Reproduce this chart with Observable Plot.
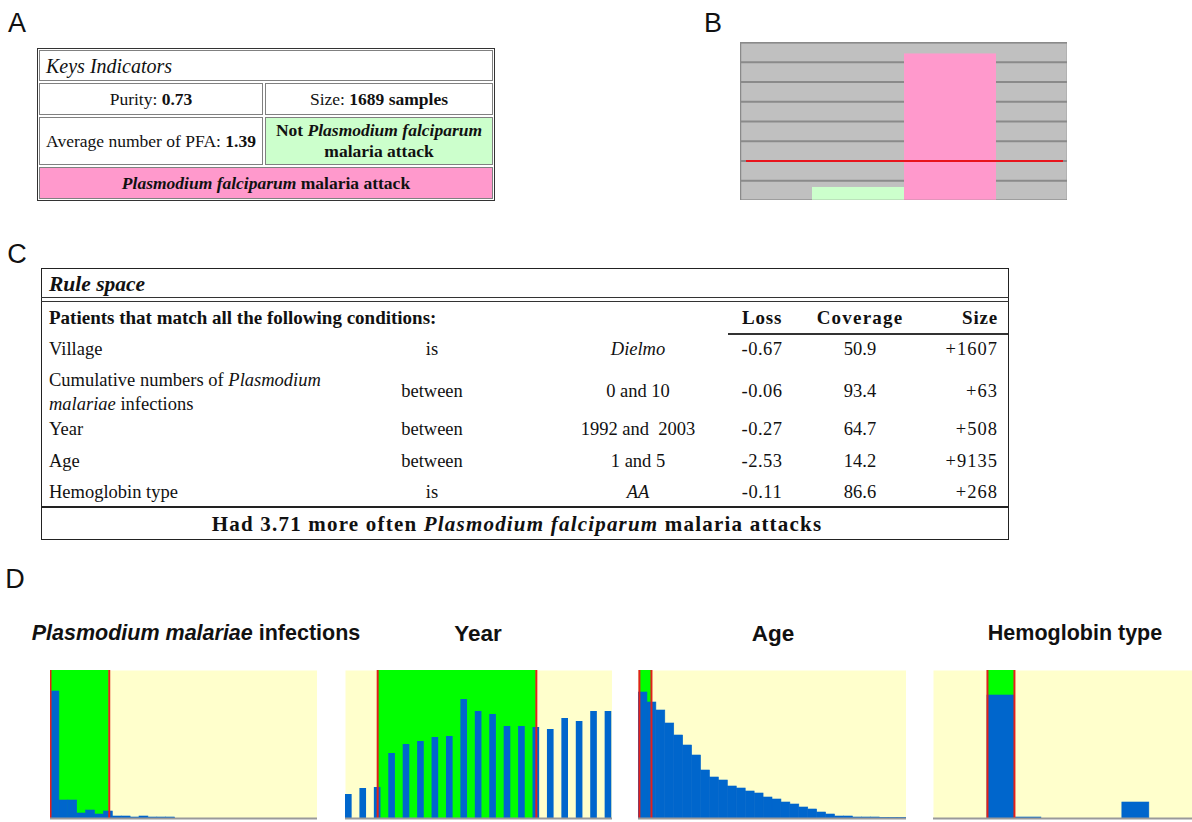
<!DOCTYPE html>
<html><head><meta charset="utf-8">
<script src="https://cdn.jsdelivr.net/npm/d3@7"></script>
<script src="https://cdn.jsdelivr.net/npm/@observablehq/plot@0.6"></script>
<style>
body{margin:0;background:#fff;width:1192px;height:822px;position:relative;overflow:hidden;font-family:"Liberation Serif","Times New Roman",serif;color:#111}
.c{position:absolute;transform:translate(-50%,-50%);white-space:nowrap;line-height:1.15}
.l{position:absolute;transform:translate(0,-50%);white-space:nowrap;line-height:1.15}
.r{position:absolute;transform:translate(-100%,-50%);white-space:nowrap;line-height:1.15}
.panel{font-family:"Liberation Sans",Arial,sans-serif;font-size:27px;line-height:1}
.cell{position:absolute;border:1px solid #808080;box-sizing:border-box;display:flex;align-items:center;justify-content:center;text-align:center;font-size:17.5px;line-height:1.2}
.dt{font-family:"Liberation Sans",Arial,sans-serif;font-weight:bold;font-size:21.5px;line-height:1}
.plot{position:absolute}
.plot svg{display:block}
.ct{font-size:18.5px}
.hd{font-size:19px}
</style></head><body>
<script>
// ---------------- data ----------------
const panelLetters = ["A", "B", "C", "D"];

// Panel A – key indicators
const purity = "0.73";
const sampleSize = "1689";
const avgPFA = "1.39";

// Panel B – class bars
const bCategories = ["Not Plasmodium falciparum malaria attack", "Plasmodium falciparum malaria attack"];
const bValues = [0.33, 3.71];
const bColors = ["#ccffcc", "#ff99cc"];
const bReference = [1];
const bGridTicks = [0, 0.5, 1, 1.5, 2, 2.5, 3, 3.5, 4];

// Panel C – rule space
const ruleAttributes = ["Village", "Cumulative numbers of <i>Plasmodium</i><br><i>malariae</i> infections", "Year", "Age", "Hemoglobin type"];
const ruleOperators = ["is", "between", "between", "between", "is"];
const ruleValues = ["<i>Dielmo</i>", "0 and 10", "1992 and&nbsp; 2003", "1 and 5", "<i>AA</i>"];
const ruleLoss = ["-0.67", "-0.06", "-0.27", "-2.53", "-0.11"];
const ruleCoverage = ["50.9", "93.4", "64.7", "14.2", "86.6"];
const ruleSize = ["+1607", "+63", "+508", "+9135", "+268"];
const ruleEffect = "3.71";

// Panel D – distributions
const dTitles = ["<i>Plasmodium malariae</i> infections", "Year", "Age", "Hemoglobin type"];
const countMax = 148;
const pmCounts = [127, 18, 18, 5, 8, 4, 7, 2, 2, 1, 2, 1, 1, 1, 0, 0, 0, 0, 0, 0, 0, 0, 0, 0, 0, 0, 0, 0, 0, 0];
const pmSelected = [0, 6.6];
const years = [1990, 1991, 1992, 1993, 1994, 1995, 1996, 1997, 1998, 1999, 2000, 2001, 2002, 2003, 2004, 2005, 2006, 2007, 2008];
const yearCounts = [24, 30, 31, 65, 74, 77, 81, 82, 119, 107, 104, 92, 92, 91, 89, 100, 97, 107, 107];
const yearSelected = [1992, 2003];
const ageCounts = [126, 116, 108, 95, 83, 73, 63, 48, 41, 38, 32, 30, 27, 25, 21, 19, 16, 14, 11, 9, 6, 4, 2, 2, 1, 1, 1, 0.5, 0.5, 0.5];
const ageSelected = [0.1, 1.45];
const hbCounts = [0, 0, 123, 1, 0, 0, 0, 16, 0, 0];
const hbSelected = [2, 3];

// ---------------- helpers ----------------
function put(cls, html, x, y, extra) {
  const d = document.createElement("div");
  d.className = cls;
  d.innerHTML = html;
  d.style.left = x + "px";
  d.style.top = y + "px";
  if (extra) Object.assign(d.style, extra);
  document.body.appendChild(d);
  return d;
}
function box(x, y, w, h, style) {
  const d = document.createElement("div");
  Object.assign(d.style, {position: "absolute", left: x + "px", top: y + "px", width: w + "px", height: h + "px", boxSizing: "border-box"}, style);
  document.body.appendChild(d);
  return d;
}
function cell(x, y, w, h, html, bg) {
  const d = box(x, y, w, h, {background: bg || "#fff"});
  d.className = "cell";
  d.innerHTML = "<div>" + html + "</div>";
  return d;
}
function mount(svg, x, y) {
  const d = document.createElement("div");
  d.className = "plot";
  d.style.left = x + "px";
  d.style.top = y + "px";
  d.appendChild(svg);
  document.body.appendChild(d);
}

// ---------------- panel letters ----------------
put("c panel", panelLetters[0], 17, 23);
put("c panel", panelLetters[1], 713, 23);
put("c panel", panelLetters[2], 17, 254);
put("c panel", panelLetters[3], 15, 579);

// ---------------- panel A ----------------
box(37, 48, 458, 153, {border: "1.5px solid #333"});
const t = cell(39, 50, 454, 31, "");
t.style.justifyContent = "flex-start";
t.innerHTML = "<div style='font-style:italic;font-size:20px;padding-left:6px'>Keys Indicators</div>";
cell(39, 83, 224, 32, "Purity: <b>" + purity + "</b>");
cell(265, 83, 228, 32, "Size: <b>" + sampleSize + " samples</b>");
cell(39, 117, 224, 48, "Average number of PFA: <b>" + avgPFA + "</b>");
cell(265, 117, 228, 48, "<b>Not <i>Plasmodium falciparum</i><br>malaria attack</b>", bColors[0]);
cell(39, 167, 454, 32, "<b><i>Plasmodium falciparum</i> malaria attack</b>", bColors[1]);

// ---------------- panel B ----------------
const bData = bCategories.map((c, i) => ({category: c, value: bValues[i]}));
mount(Plot.plot({
  width: 327, height: 158, margin: 0,
  x: {domain: bCategories, paddingInner: 0, paddingOuter: 0.76, axis: null},
  y: {domain: [0, 4], axis: null},
  color: {domain: bCategories, range: bColors},
  marks: [
    Plot.frame({fill: "#c0c0c0", stroke: "none"}),
    Plot.ruleY(bGridTicks, {stroke: "#8a8a8a", strokeWidth: 1.8}),
    Plot.barY(bData, {x: "category", y: "value", fill: "category"}),
    Plot.ruleY(bReference, {stroke: "#e8141c", strokeWidth: 2, insetLeft: 6, insetRight: 4}),
    Plot.frame({stroke: "#8a8a8a", strokeWidth: 1.5})
  ]
}), 740, 42);

// ---------------- panel C ----------------
box(41, 268, 968, 272, {border: "1.8px solid #222"});
box(41, 297, 968, 5, {borderTop: "1.5px solid #333", borderBottom: "1.5px solid #333"});
box(41, 506, 968, 2, {borderTop: "2px solid #222"});
box(728, 333, 280, 2, {borderTop: "2px solid #333"});
put("l", "<b><i>Rule space</i></b>", 49, 284, {fontSize: "21.5px"});
put("l hd", "<b>Patients that match all the following conditions:</b>", 49, 318);
put("c hd", "<b>Loss</b>", 762, 318, {letterSpacing: "0.8px"});
put("c hd", "<b>Coverage</b>", 860, 318, {letterSpacing: "1.2px"});
put("r hd", "<b>Size</b>", 998, 318, {letterSpacing: "0.8px"});
const rowY = [350, 392, 430, 462, 493];
ruleAttributes.forEach((a, i) => {
  put("l ct", a, 49, rowY[i], i === 1 ? {lineHeight: "24px"} : null);
  put("c ct", ruleOperators[i], 432, rowY[i]);
  put("c ct", ruleValues[i], 638, rowY[i]);
  put("c ct", ruleLoss[i], 762, rowY[i], {letterSpacing: "0.5px"});
  put("c ct", ruleCoverage[i], 860, rowY[i]);
  put("r ct", ruleSize[i], 998, rowY[i], {letterSpacing: "1px"});
});
put("c", "<b>Had " + ruleEffect + " more often <i>Plasmodium falciparum</i> malaria attacks</b>", 517, 524, {fontSize: "21px", letterSpacing: "1.2px"});

// ---------------- panel D ----------------
const YELLOW = "#ffffcc", GREEN = "#00ff00", BLUE = "#0066cc", RED = "#e3201b", AXIS = "#9a9a9a";
function distChart(width, xDomain, sel, barMarks) {
  return Plot.plot({
    width, height: countMax + 2, margin: 0, marginBottom: 2,
    x: {domain: xDomain, axis: null},
    y: {domain: [0, countMax], axis: null},
    marks: [
      Plot.frame({fill: YELLOW, stroke: "none"}),
      Plot.rect([sel], {x1: d => d[0], x2: d => d[1], y1: 0, y2: countMax, fill: GREEN}),
      barMarks,
      Plot.ruleX(sel, {stroke: RED, strokeWidth: 2}),
      Plot.ruleY([0], {stroke: AXIS, strokeWidth: 2})
    ]
  });
}
function binBars(counts) {
  return Plot.rect(counts, {x1: (d, i) => i, x2: (d, i) => i + 1, y1: 0, y2: d => d, fill: BLUE, stroke: BLUE, strokeWidth: 0.6});
}
mount(distChart(267, [0, pmCounts.length], pmSelected, binBars(pmCounts)), 50, 670);
mount(distChart(267, [1989.77, 2008.28], yearSelected,
  Plot.rect(years, {x1: d => d - 0.23, x2: d => d + 0.23, y1: 0, y2: (d, i) => yearCounts[i], fill: BLUE})), 345, 670);
mount(distChart(268, [0, ageCounts.length], ageSelected, binBars(ageCounts)), 638, 670);
mount(distChart(259, [0, 9.6], hbSelected, binBars(hbCounts)), 933, 670);

put("c dt", dTitles[0], 196, 634);
put("c dt", dTitles[1], 478, 634, {fontSize: "22.5px"});
put("c dt", dTitles[2], 773, 634, {fontSize: "22.5px"});
put("c dt", dTitles[3], 1075, 634);
</script>
</body></html>
